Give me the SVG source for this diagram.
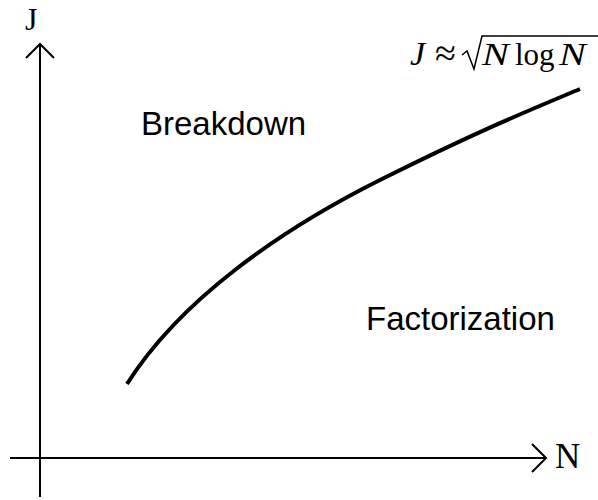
<svg xmlns="http://www.w3.org/2000/svg" width="598" height="500" viewBox="0 0 598 500">
<style>
.ax{stroke:#000;stroke-width:2;fill:none}
.lbl{font-family:"Liberation Sans",Arial,sans-serif;font-size:33px;fill:#000}
.ser{font-family:"Liberation Serif","Times New Roman",serif;fill:#000}
</style>
<rect width="598" height="500" fill="#fff"/>
<g id="connectors">
<path class="ax" d="M40,497 V44 M26,58 L40,44 L54,58"/>
<path class="ax" d="M10,458 H546 M532,444 L546,458 L532,472"/>
<path d="M127,384 C180,300 280,230 380,180 S530,110 580,89" stroke="#000" stroke-width="4" fill="none"/>
</g>
<g id="axisJ"><text class="ser" x="25" y="30" font-size="32">J</text></g>
<g id="axisN"><text class="ser" x="555" y="468" font-size="35">N</text></g>
<g id="formula">
<text class="ser" x="410" y="65" font-size="34" font-style="italic">J</text>
<text class="ser" x="435" y="66" font-size="38">≈</text>
<path d="M462,55 L467,51 L474,69 L482,36 H598" stroke="#000" stroke-width="1.5" fill="none"/>
<text class="ser" x="482" y="65" font-size="31" font-style="italic" transform="translate(482,0) scale(1.3,1) translate(-482,0)">N</text>
<text class="ser" x="515" y="65" font-size="31">log</text>
<text class="ser" x="559" y="65" font-size="31" font-style="italic" transform="translate(559,0) scale(1.3,1) translate(-559,0)">N</text>
</g>
<g id="breakdown"><text class="lbl" x="141" y="135">Breakdown</text></g>
<g id="factorization"><text class="lbl" x="366" y="330">Factorization</text></g>
</svg>
